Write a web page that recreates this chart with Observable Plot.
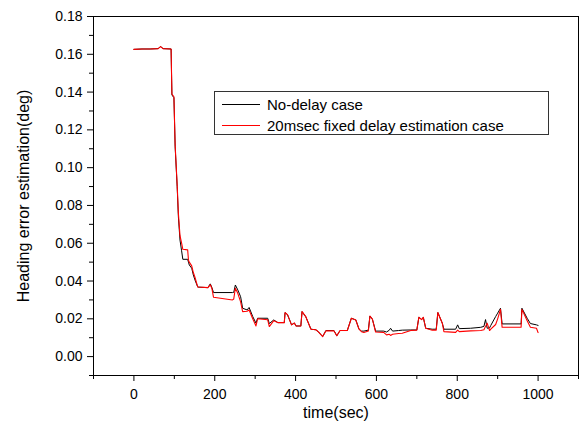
<!DOCTYPE html>
<html>
<head>
<meta charset="utf-8">
<script src="https://cdn.jsdelivr.net/npm/d3@7"></script>
<script src="https://cdn.jsdelivr.net/npm/@observablehq/plot@0.6"></script>
<style>
  html, body { margin: 0; padding: 0; background: #fff; }
  #wrap { position: relative; width: 586px; height: 430px; font-family: "Liberation Sans", Arial, sans-serif; }
  #legend { position: absolute; left: 214px; top: 91px; width: 333px; height: 42px; border: 1px solid #333; background: #fff; }
  #legend .row { position: absolute; left: 0; height: 21px; display: flex; align-items: center; font-size: 15px; color: #000; white-space: nowrap; }
  #legend .sw { display: inline-block; width: 38px; height: 0; margin-left: 7px; margin-right: 7px; }
</style>
</head>
<body>
<div id="wrap"></div>
<script>
// Time stamps (sec)
const time = [0, 20, 40, 60, 66, 72, 92, 94, 99, 102, 107, 110, 114, 118, 121, 133, 135, 137, 143, 147, 151, 158, 183, 189, 193, 197, 244, 247, 251, 257, 264, 269, 280, 285, 294, 302, 306, 331, 335, 346, 356, 372, 374, 380, 390, 397, 401, 413, 416, 425, 438, 450, 456, 467, 475, 495, 502, 510, 528, 538, 549, 557, 563, 569, 580, 584, 590, 598, 618, 625, 632, 635, 640, 655, 664, 685, 700, 705, 712, 716, 722, 738, 748, 752, 763, 767, 796, 801, 805, 833, 858, 866, 870, 874, 880, 883, 895, 900, 907, 911, 958, 960, 973, 981, 996, 1000];
// No-delay case (deg)
const noDelay = [0.1626, 0.1628, 0.1628, 0.1630, 0.1641, 0.1630, 0.1628, 0.1385, 0.1370, 0.1110, 0.0900, 0.0740, 0.0617, 0.0560, 0.0515, 0.0515, 0.0500, 0.0485, 0.0468, 0.0432, 0.0406, 0.0368, 0.0365, 0.0385, 0.0365, 0.0339, 0.0339, 0.0340, 0.0379, 0.0353, 0.0317, 0.0256, 0.0247, 0.0260, 0.0212, 0.0177, 0.0203, 0.0203, 0.0175, 0.0194, 0.0180, 0.0180, 0.0233, 0.0222, 0.0168, 0.0178, 0.0162, 0.0162, 0.0238, 0.0212, 0.0145, 0.0142, 0.0132, 0.0106, 0.0138, 0.0138, 0.0110, 0.0138, 0.0138, 0.0203, 0.0194, 0.0145, 0.0135, 0.0135, 0.0140, 0.0215, 0.0198, 0.0135, 0.0135, 0.0130, 0.0140, 0.0150, 0.0135, 0.0138, 0.0140, 0.0141, 0.0141, 0.0208, 0.0196, 0.0208, 0.0150, 0.0145, 0.0145, 0.0233, 0.0177, 0.0145, 0.0145, 0.0168, 0.0148, 0.0150, 0.0155, 0.0160, 0.0196, 0.0150, 0.0152, 0.0165, 0.0212, 0.0230, 0.0256, 0.0173, 0.0173, 0.0256, 0.0203, 0.0175, 0.0168, 0.0165];
// 20msec fixed delay estimation case (deg)
const fixedDelay = [0.1626, 0.1628, 0.1628, 0.1630, 0.1641, 0.1630, 0.1628, 0.1390, 0.1375, 0.1120, 0.0910, 0.0760, 0.0640, 0.0600, 0.0568, 0.0565, 0.0510, 0.0500, 0.0480, 0.0445, 0.0420, 0.0368, 0.0365, 0.0380, 0.0360, 0.0314, 0.0300, 0.0305, 0.0362, 0.0335, 0.0290, 0.0238, 0.0240, 0.0247, 0.0200, 0.0162, 0.0200, 0.0195, 0.0159, 0.0190, 0.0180, 0.0180, 0.0233, 0.0222, 0.0168, 0.0178, 0.0162, 0.0162, 0.0238, 0.0212, 0.0145, 0.0142, 0.0132, 0.0106, 0.0136, 0.0136, 0.0110, 0.0138, 0.0138, 0.0203, 0.0194, 0.0145, 0.0132, 0.0128, 0.0135, 0.0215, 0.0198, 0.0130, 0.0128, 0.0115, 0.0118, 0.0112, 0.0118, 0.0122, 0.0124, 0.0138, 0.0140, 0.0208, 0.0196, 0.0208, 0.0150, 0.0140, 0.0140, 0.0233, 0.0177, 0.0132, 0.0128, 0.0140, 0.0132, 0.0136, 0.0138, 0.0142, 0.0160, 0.0177, 0.0138, 0.0145, 0.0170, 0.0200, 0.0250, 0.0155, 0.0155, 0.0250, 0.0190, 0.0155, 0.0150, 0.0127];

const xMajor = [0, 200, 400, 600, 800, 1000];
const xMinor = [-100, 100, 300, 500, 700, 900, 1100];
const yMajor = [0, 0.02, 0.04, 0.06, 0.08, 0.10, 0.12, 0.14, 0.16, 0.18];
const yMinor = [-0.01, 0.01, 0.03, 0.05, 0.07, 0.09, 0.11, 0.13, 0.15, 0.17];

const seriesNames = ["No-delay case", "20msec fixed delay estimation case"];
const seriesColors = ["#000000", "#ff0000"];

const rows = time.map((t, i) => ({t, noDelay: noDelay[i], fixedDelay: fixedDelay[i]}));

const chart = Plot.plot({
  width: 586,
  height: 430,
  marginLeft: 93,
  marginRight: 8,
  marginTop: 16,
  marginBottom: 55,
  x: {domain: [-100, 1100]},
  y: {domain: [-0.01, 0.18]},
  style: {fontFamily: "Liberation Sans, Arial, sans-serif", fontSize: "14px", color: "#000", background: "#fff"},
  marks: [
    Plot.frame({stroke: "#000", strokeWidth: 1}),
    Plot.axisY(yMajor, {tickSize: 6, tickPadding: 5, tickFormat: d3.format(".2f"), label: null, fontSize: 14}),
    Plot.axisY(yMinor, {tickSize: 4, tickFormat: () => "", label: null}),
    Plot.axisX(xMajor, {tickSize: 6, tickPadding: 8, tickFormat: d3.format("d"), label: null, fontSize: 14}),
    Plot.axisX(xMinor, {tickSize: 4, tickFormat: () => "", label: null}),
    Plot.line(rows, {x: "t", y: "noDelay", stroke: seriesColors[0], strokeWidth: 1}),
    Plot.line(rows, {x: "t", y: "fixedDelay", stroke: seriesColors[1], strokeWidth: 1.1}),
    Plot.text(["Heading error estimation(deg)"], {frameAnchor: "left", textAnchor: "middle", lineAnchor: "middle", rotate: -90, dx: -70, fontSize: 16, fill: "#000"}),
    Plot.text(["time(sec)"], {frameAnchor: "bottom", textAnchor: "middle", lineAnchor: "middle", dy: 37, fontSize: 16, fill: "#000"})
  ]
});

const wrap = document.getElementById("wrap");
wrap.appendChild(chart);

const legend = document.createElement("div");
legend.id = "legend";
seriesNames.forEach((name, i) => {
  const row = document.createElement("div");
  row.className = "row";
  row.style.top = (2 + i * 21) + "px";
  const sw = document.createElement("span");
  sw.className = "sw";
  sw.style.borderTop = "1px solid " + seriesColors[i];
  row.appendChild(sw);
  row.appendChild(document.createTextNode(name));
  legend.appendChild(row);
});
wrap.appendChild(legend);
</script>
</body>
</html>
